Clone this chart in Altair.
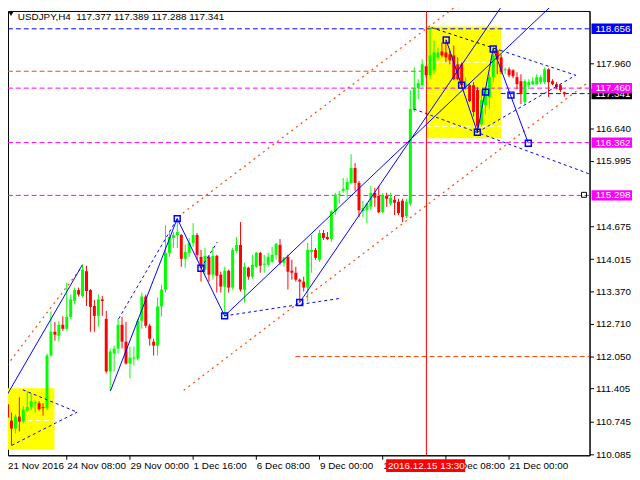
import altair as alt
import pandas as pd
import numpy as np

# ---------------- data ----------------
opens = [110.70, 111.09, 110.76, 110.60, 110.84, 110.74, 110.96, 111.03, 111.11, 111.11,
         111.03, 111.01, 112.07, 112.55, 112.47, 112.69, 112.61, 112.85, 113.17, 113.39,
         113.27, 113.77, 113.39, 113.07, 112.87, 113.20, 112.81, 111.75, 112.11, 112.21,
         112.69, 112.35, 111.91, 112.01, 112.01, 112.77, 113.26, 112.67, 112.35, 112.27,
         113.06, 113.40, 114.14, 114.44, 114.50, 114.50, 114.02, 114.14, 114.34, 114.50,
         114.06, 113.80, 114.06, 113.70, 114.08, 113.70, 113.46, 113.78, 113.44, 114.18,
         114.30, 113.40, 113.84, 113.66, 113.86, 114.14, 113.90, 113.90, 113.96, 114.10,
         114.30, 113.94, 114.06, 113.78, 113.74, 113.60, 113.56, 113.44, 114.16, 114.20,
         114.00, 114.54, 114.46, 114.42, 114.98, 115.31, 115.39, 115.41, 115.55, 115.85,
         115.55, 114.98, 115.00, 115.07, 115.35, 115.29, 114.96, 115.29, 115.13, 115.21,
         115.17, 115.19, 114.88, 115.13, 117.02, 117.46, 117.52, 117.90, 117.72, 117.82,
         118.08, 118.20, 118.18, 118.14, 118.12, 117.94, 117.94, 117.48, 117.52, 117.52,
         117.42, 116.73, 117.12, 117.28, 117.68, 118.22, 118.08, 117.82, 117.84, 117.82,
         117.68, 117.60, 117.18, 117.52, 117.54, 117.54, 117.58, 117.58, 117.84, 117.60,
         117.54, 117.52, 117.377]
highs = [111.15, 111.38, 110.92, 110.88, 111.23, 111.05, 111.35, 111.31, 111.17, 111.15,
         111.11, 112.11, 112.96, 112.75, 112.77, 112.86, 113.54, 113.30, 113.44, 113.44,
         113.90, 113.88, 113.41, 113.19, 113.30, 113.27, 112.97, 112.21, 112.27, 112.81,
         112.85, 112.75, 112.25, 112.25, 112.81, 113.34, 113.30, 112.71, 112.41, 113.24,
         113.50, 114.70, 114.56, 114.56, 114.84, 114.52, 114.30, 114.44, 114.74, 114.54,
         114.20, 114.24, 114.10, 114.26, 114.10, 113.76, 113.86, 113.80, 114.24, 114.46,
         114.76, 113.94, 113.86, 114.10, 114.16, 114.16, 114.10, 114.14, 114.26, 114.34,
         114.42, 114.06, 114.10, 114.00, 113.86, 113.62, 113.66, 114.34, 114.50, 114.24,
         114.60, 114.60, 114.56, 115.00, 115.35, 115.39, 115.65, 115.65, 116.13, 115.95,
         115.59, 115.19, 115.15, 115.49, 115.45, 115.49, 115.35, 115.35, 115.35, 115.29,
         115.23, 115.23, 115.23, 117.42, 117.88, 117.64, 118.04, 117.92, 118.68, 118.42,
         118.28, 118.38, 118.44, 118.22, 118.32, 118.08, 117.98, 117.68, 117.54, 117.58,
         117.48, 117.42, 117.48, 117.74, 118.28, 118.24, 118.14, 117.88, 117.88, 117.84,
         117.78, 117.74, 117.64, 117.64, 117.68, 117.74, 117.72, 117.88, 117.86, 117.64,
         117.58, 117.54, 117.389]
lows = [110.66, 110.36, 110.26, 110.50, 110.54, 110.70, 110.94, 110.97, 110.92, 110.96,
        110.86, 110.97, 112.05, 112.37, 112.35, 112.57, 112.57, 112.81, 113.10, 113.26,
        113.24, 113.07, 112.55, 112.55, 112.65, 112.87, 111.71, 111.35, 111.75, 112.11,
        112.21, 111.89, 111.61, 111.87, 111.97, 112.61, 112.63, 112.27, 112.07, 112.07,
        112.86, 113.34, 114.06, 114.24, 114.24, 113.86, 113.84, 114.06, 114.26, 114.00,
        113.56, 113.70, 113.56, 113.60, 113.34, 113.34, 112.86, 113.34, 113.40, 114.14,
        113.36, 113.14, 113.60, 113.62, 113.84, 113.74, 113.74, 113.86, 113.94, 114.00,
        113.90, 113.86, 113.40, 113.60, 113.56, 113.14, 113.36, 113.16, 113.74, 114.00,
        113.96, 114.40, 114.40, 114.36, 114.90, 115.13, 115.35, 115.25, 115.53, 115.39,
        114.86, 114.86, 114.74, 115.00, 115.07, 114.94, 114.94, 115.07, 115.09, 114.90,
        114.90, 114.76, 114.84, 115.09, 116.98, 117.24, 117.48, 117.68, 117.64, 117.74,
        118.02, 118.08, 117.98, 117.94, 117.62, 117.62, 117.44, 117.42, 117.18, 116.89,
        116.57, 116.69, 116.93, 117.04, 117.58, 117.74, 117.74, 117.74, 117.68, 117.66,
        117.44, 117.14, 117.14, 117.44, 117.52, 117.52, 117.54, 117.54, 117.28, 117.52,
        117.44, 117.38, 117.288]
closes = [111.09, 110.82, 110.60, 110.84, 110.74, 110.98, 111.03, 111.15, 111.13, 110.99,
          111.01, 112.07, 112.55, 112.49, 112.69, 112.61, 112.85, 113.20, 113.39, 113.30,
          113.80, 113.37, 113.05, 112.87, 113.20, 113.17, 111.75, 112.15, 112.21, 112.69,
          112.35, 111.91, 112.03, 112.03, 112.77, 113.26, 112.67, 112.41, 112.27, 113.06,
          113.40, 114.14, 114.46, 114.50, 114.56, 114.02, 114.16, 114.34, 114.50, 114.10,
          113.84, 114.08, 113.70, 114.08, 113.68, 113.46, 113.78, 113.44, 114.20, 114.30,
          113.40, 113.86, 113.66, 113.90, 114.14, 113.88, 113.92, 114.06, 114.10, 114.32,
          113.94, 114.04, 113.76, 113.74, 113.60, 113.56, 113.44, 114.20, 114.20, 114.04,
          114.54, 114.44, 114.42, 114.98, 115.31, 115.33, 115.43, 115.57, 115.85, 115.55,
          115.00, 115.04, 115.13, 115.35, 115.25, 114.96, 115.29, 115.23, 115.25, 115.15,
          114.94, 114.86, 115.17, 117.04, 117.46, 117.56, 117.94, 117.72, 118.12, 118.18,
          118.18, 118.12, 118.08, 118.02, 117.64, 117.64, 117.52, 117.54, 117.20, 116.98,
          116.69, 117.22, 117.42, 117.68, 118.12, 118.04, 117.78, 117.84, 117.72, 117.70,
          117.54, 117.34, 117.60, 117.58, 117.60, 117.68, 117.68, 117.84, 117.58, 117.54,
          117.48, 117.42, 117.341]

date_ticks = [0, 16, 32, 48, 64, 80, 96, 112, 128]
date_labels = ["21 Nov 2016", "24 Nov 08:00", "29 Nov 00:00", "1 Dec 16:00", "6 Dec 08:00",
               "9 Dec 00:00", "13 Dec 16:00", "16 Dec 08:00", "21 Dec 00:00"]
price_ticks = [117.960, 116.640, 115.995, 114.675, 114.015, 113.370, 112.710,
               112.050, 111.405, 110.745, 110.085]

# horizontal levels: (start bar, end bar, price, colour)
hl_start = [1.25, 1.25, 1.25, 1.25, 1.25, 74.0, 126.0]
hl_end = [148.5, 107.0, 148.5, 148.5, 148.5, 148.5, 148.5]
hl_price = [118.656, 117.80, 117.460, 116.362, 115.298, 112.05, 117.35]
hl_color = ["#0000ff", "#ff4500", "#ff00ff", "#ff00ff", "#ff00ff", "#ff4500", "#0000ff"]

# rectangles (bar from, bar to, price top, price bottom)
rect_x1 = [-0.1, 107.2]
rect_x2 = [13.0, 126.1]
rect_p1 = [111.41, 118.70]
rect_p2 = [110.17, 116.45]

# white dashed levels inside rectangles
wl_x1 = [107.2, 107.2, 107.2, 4.25]
wl_x2 = [126.1, 126.1, 126.1, 13.0]
wl_p = [117.98, 117.35, 116.69, 110.76]

# trend lines: (bar1, price1, bar2, price2)
orange_lines = [(0.08, 111.78, 19.7, 113.83), (45.5, 114.94, 115.0, 119.13),
                (45.75, 111.37, 148.5, 117.60)]
blue_solid = [(0.08, 111.15, 20.08, 113.90), (27.2, 111.36, 44.1, 114.83),
              (44.1, 114.83, 56.1, 112.87), (56.1, 112.87, 139.5, 119.17),
              (75.1, 113.14, 126.75, 119.17), (112.2, 118.43, 120.1, 116.57),
              (120.1, 116.57, 124.1, 118.26), (124.1, 118.26, 133.0, 116.35)]
blue_dashed = [(5.0, 111.38, 18.75, 110.93), (2.2, 110.26, 18.75, 110.93),
               (29.25, 112.81, 44.1, 114.83), (56.1, 112.87, 85.1, 113.22),
               (50.1, 113.83, 54.25, 114.36), (126.0, 118.22, 145.0, 117.72),
               (120.1, 116.57, 145.0, 117.72), (104.0, 117.04, 148.5, 115.73)]
black_dashed = [(108.5, 118.68, 126.0, 118.22)]

sq_x = [44.1, 50.1, 56.1, 75.1, 112.2, 116.1, 120.1, 122.2, 124.1, 128.6, 133.0]
sq_p = [114.83, 113.83, 112.87, 113.14, 118.43, 117.52, 116.57, 117.38, 118.25, 117.32, 116.35]

# price boxes on the right, in drawing order (later ones on top)
box_price = [118.656, 116.362, 115.298, 117.341, 117.460]
box_label = ["118.656", "116.362", "115.298", "117.341", "117.460"]
box_fill = ["#0000ff", "#ff00ff", "#ff00ff", "#000000", "#ff00ff"]

vline_bar = 107.2
vline_label = "2016.12.15 13:30"
title_text = "USDJPY,H4\u00a0 117.377 117.389 117.288 117.341"

# ---------------- chart ----------------
W, H = 589, 450
X_DOM = [1.25, 148.5]
Y_DOM = [110.06, 119.015]
FONT = "Liberation Sans"

xsc = alt.Scale(domain=X_DOM, nice=False, zero=False)
ysc = alt.Scale(domain=Y_DOM, nice=False, zero=False)
xax = alt.Axis(values=date_ticks[1:], labels=False, ticks=True, tickSize=4, tickColor="black",
               domainColor="black", grid=False, title=None)
yax = alt.Axis(orient="right", values=price_ticks, format=".3f", labelFont=FONT, labelFontSize=10,
               labelColor="black", labelPadding=2, tickSize=4, tickColor="black",
               domainColor="black", grid=False, title=None, labelOverlap=False)


def X(f):
    return alt.X(f, type="quantitative", scale=xsc, axis=xax)


def Y(f):
    return alt.Y(f, type="quantitative", scale=ysc, axis=yax)


def segs(lst):
    return pd.DataFrame(lst, columns=["x1", "y1", "x2", "y2"])


n = len(opens)
cd = pd.DataFrame({"i": np.arange(n), "o": opens, "h": highs, "l": lows, "c": closes})
cd["xc"] = cd["i"] + 0.125
cd["xl"] = cd["i"] - 0.25
cd["xr"] = cd["i"] + 0.5
cd["col"] = np.where(cd["c"] >= cd["o"], "#00ff00", "#ff0000")
cd["bot"] = np.minimum(cd["o"], cd["c"])
cd["top"] = np.maximum(np.maximum(cd["o"], cd["c"]), cd["bot"] + 0.02)

rects = alt.Chart(pd.DataFrame({"x1": rect_x1, "x2": rect_x2, "p1": rect_p1, "p2": rect_p2})).mark_rect(
    color="#ffff00").encode(x=X("x1"), x2="x2", y=Y("p1"), y2="p2")

wlines = alt.Chart(pd.DataFrame({"x1": wl_x1, "x2": wl_x2, "p": wl_p})).mark_rule(
    color="white", strokeDash=[5, 3], strokeWidth=1).encode(x=X("x1"), x2="x2", y=Y("p"))

hlines = alt.Chart(pd.DataFrame({"x1": hl_start, "x2": hl_end, "p": hl_price, "col": hl_color})).mark_rule(
    strokeDash=[5, 3], strokeWidth=1).encode(x=X("x1"), x2="x2", y=Y("p"),
                                             color=alt.Color("col:N", scale=None))

vline = alt.Chart(pd.DataFrame({"x": [vline_bar]})).mark_rule(color="#ff0000", strokeWidth=1).encode(
    x=X("x"), y=alt.value(0), y2=alt.value(H))

wicks = alt.Chart(cd).mark_rule(strokeWidth=1).encode(
    x=X("xc"), y=Y("l"), y2="h", color=alt.Color("col:N", scale=None))
bodies = alt.Chart(cd).mark_rect().encode(
    x=X("xl"), x2="xr", y=Y("bot"), y2="top", color=alt.Color("col:N", scale=None))


def seg_layer(lst, color, dash=None, width=1):
    kw = dict(color=color, strokeWidth=width)
    if dash:
        kw["strokeDash"] = dash
    return alt.Chart(segs(lst)).mark_rule(**kw).encode(x=X("x1"), y=Y("y1"), x2="x2", y2="y2")


orange = seg_layer(orange_lines, "#ff4500", [2, 4], 1.2)
bsolid = seg_layer(blue_solid, "#0000ff")
bdash = seg_layer(blue_dashed, "#0000ff", [3, 3])
kdash = seg_layer(black_dashed, "#000000", [3, 3])

squares = alt.Chart(pd.DataFrame({"x": sq_x, "p": sq_p})).mark_point(
    shape="square", filled=False, size=36, strokeWidth=1.5, color="#0000ff", opacity=1).encode(
    x=X("x"), y=Y("p"))
ksq = alt.Chart(pd.DataFrame({"x": [147.1], "p": [115.31]})).mark_point(
    shape="square", filled=False, size=25, strokeWidth=1, color="black", opacity=1).encode(
    x=X("x"), y=Y("p"))

dl = pd.DataFrame({"i": date_ticks[1:], "t": date_labels[1:]})
dlabels = alt.Chart(dl).mark_text(align="left", baseline="alphabetic", dx=1, font=FONT,
                                  fontSize=10, color="black").encode(
    x=X("i"), y=alt.value(H + 14), text="t:N")
dfirst = alt.Chart(pd.DataFrame({"t": [date_labels[0]]})).mark_text(
    align="left", baseline="alphabetic", font=FONT, fontSize=10, color="black").encode(
    x=alt.value(0), y=alt.value(H + 14), text="t:N")

vl_df = pd.DataFrame({"x1": [97.0], "x2": [117.0], "xm": [vline_bar], "t": [vline_label]})
vbox = alt.Chart(vl_df).mark_rect(color="#ff0000").encode(
    x=X("x1"), x2="x2", y=alt.value(H + 4), y2=alt.value(H + 17))
vtext = alt.Chart(vl_df).mark_text(align="center", baseline="alphabetic", font=FONT, fontSize=10,
                                   color="white").encode(x=X("xm"), y=alt.value(H + 14), text="t:N")

box_layers = []
for p, t, f in zip(box_price, box_label, box_fill):
    bdf = pd.DataFrame({"p": [p], "pt": [p + 0.105], "pb": [p - 0.105], "t": [t],
                        "bx1": [149.0], "bx2": [159.5], "tx": [150.0]})
    box_layers.append(alt.Chart(bdf).mark_rect(color=f).encode(
        x=X("bx1"), x2="bx2", y=Y("pt"), y2="pb"))
    box_layers.append(alt.Chart(bdf).mark_text(align="left", baseline="middle", font=FONT,
                                               fontSize=10, color="white").encode(
        x=X("tx"), y=Y("p"), text="t:N"))

title = alt.Chart(pd.DataFrame({"t": [title_text]})).mark_text(
    align="left", baseline="alphabetic", font=FONT, fontSize=10, color="black").encode(
    x=alt.value(10), y=alt.value(9), text="t:N")
tri = alt.Chart(pd.DataFrame({"a": [0]})).mark_point(
    shape="triangle-down", filled=True, color="black", size=22, opacity=1).encode(
    x=alt.value(3), y=alt.value(3))

chart = alt.layer(
    rects, wlines, hlines, vline, wicks, bodies, orange, bsolid, bdash, kdash,
    squares, ksq, dlabels, dfirst, vbox, vtext, *box_layers, title, tri
).properties(
    width=W, height=H,
    autosize=alt.AutoSizeParams(type="none"),
    padding={"left": 0, "top": 0, "right": 43, "bottom": 22},
    background="white",
).configure_view(stroke="black", strokeWidth=1)

chart.save("out.html", embed_options={"renderer": "svg", "actions": False})
